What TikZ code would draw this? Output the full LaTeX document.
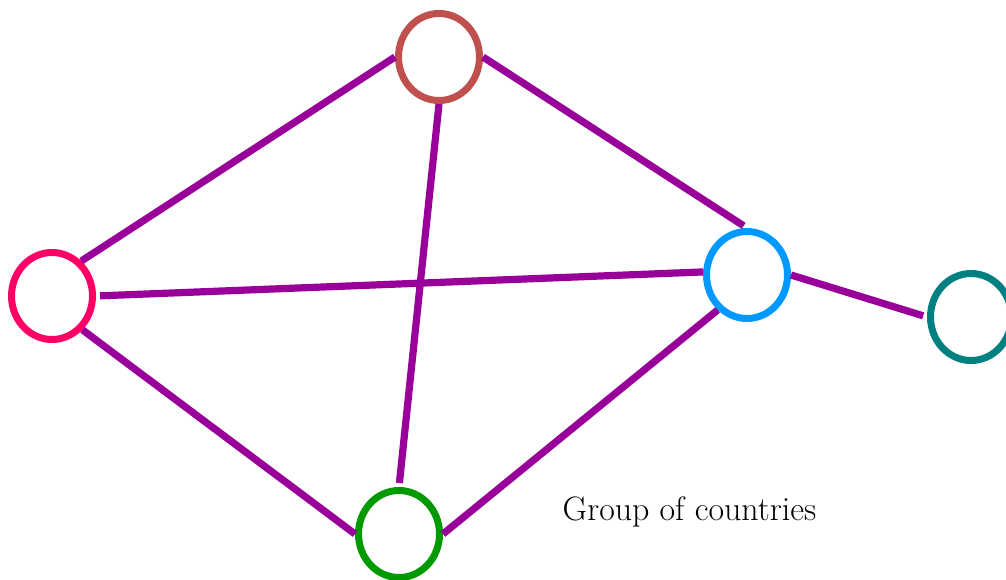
\documentclass[tikz,border=0pt]{standalone}
\usetikzlibrary{shapes.geometric}
\definecolor{qbrown}{RGB}{192,80,77}
\definecolor{qpink}{RGB}{255,0,102}
\definecolor{qblue}{RGB}{0,153,255}
\definecolor{qteal}{RGB}{0,128,128}
\definecolor{qgreen}{RGB}{0,153,0}
\definecolor{qpurple}{RGB}{153,0,153}

\begin{document}
\begin{tikzpicture}[x=0.75pt,y=-0.75pt,
  country/.style={ellipse,draw=#1,line width=5.25pt,minimum width=60.75pt,minimum height=65.25pt,inner sep=0pt},
  link/.style={draw=qpurple,line width=5.4pt}]
\useasboundingbox (0,0) rectangle (1006,580);

% countries
\node[country=qbrown] (ctop) at (439,57) {};
\node[country=qpink] (cleft) at (52,296) {};
\node[country=qblue] (cright) at (747,275) {};
\node[country=qgreen] (cbot) at (399,534) {};
\node[country=qteal] (cfar) at (971,317) {};

% links
\draw[link] (cleft.50) -- (ctop.west);
\draw[link,shorten >=3pt] (ctop.east) -- (cright.north);
\draw[link,shorten <=3pt] (cleft.east) -- (cright.176);
\draw[link] (cleft.-48) -- (cbot.west);
\draw[link,shorten >=3pt] (ctop.south) -- (cbot.north);
\draw[link] (cbot.east) -- (cright.-130);
\draw[link,shorten >=3pt] (cright.east) -- (cfar.west);

\node[anchor=base west,font=\fontsize{25.4}{30}\selectfont] (caption) at (558,520) {Group of countries};
\end{tikzpicture}
\end{document}
